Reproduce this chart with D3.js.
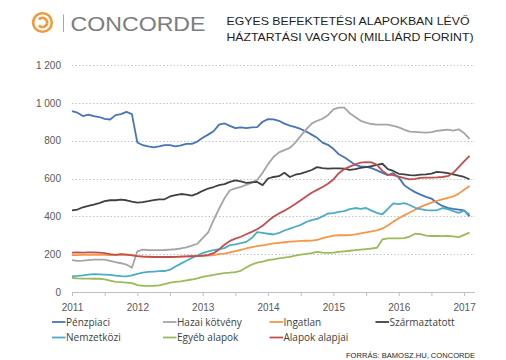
<!DOCTYPE html>
<html>
<head>
<meta charset="utf-8">
<script src="https://cdn.jsdelivr.net/npm/d3@7"></script>
<style>
  body { margin: 0; background: #fff; }
  svg { display: block; font-family: 'Open Sans', sans-serif; }
  .axis text { fill: #595959; font-size: 10px; }
  .grid line { stroke: #c4c4c4; stroke-dasharray: 1.5,2; }
  .legend text { fill: #404040; font-size: 10px; }
</style>
</head>
<body>
<svg id="chart"></svg>
<script>
// monthly values, Jan 2011 .. Feb 2017 (milliard HUF)
const startYear = 2011;
const seriesNames = ['Pénzpiaci', 'Hazai kötvény', 'Ingatlan', 'Származtatott',
  'Nemzetközi', 'Egyéb alapok', 'Alapok alapjai'];

const penzpiaci = [956, 948, 930, 938, 930, 925, 915, 912, 935, 940, 952, 940,
  790, 776, 770, 765, 770, 776, 776, 770, 775, 783, 783, 795,
  815, 832, 850, 885, 891, 878, 866, 870, 866, 870, 872, 900,
  914, 913, 905, 890, 880, 872, 862, 848, 832, 815, 790, 778,
  757, 728, 712, 693, 672, 664, 662, 655, 643, 630, 618, 628,
  605, 565, 545, 528, 515, 503, 494, 472, 455, 445, 440, 436,
  432, 400];
const hazaiKotveny = [168, 165, 166, 169, 171, 171, 171, 165, 158, 152, 145, 128,
  215, 224, 222, 221, 221, 222, 224, 226, 230, 236, 245, 255,
  285, 315, 380, 440, 495, 538, 548, 556, 566, 578, 592, 630,
  676, 714, 738, 750, 762, 790, 825, 860, 890, 905, 916, 935,
  965, 975, 975, 945, 925, 905, 895, 888, 885, 885, 885, 878,
  870, 858, 848, 846, 844, 842, 845, 852, 855, 858, 853, 860,
  840, 810];
const ingatlan = [195, 195, 196, 197, 198, 197, 196, 195, 196, 198, 197, 196,
  190, 186, 185, 185, 184, 184, 185, 186, 187, 188, 189, 190,
  190, 192, 195, 200, 203, 210, 216, 222, 230, 237, 242, 247,
  252, 257, 260, 263, 266, 268, 270, 271, 272, 275, 285, 292,
  298, 300, 300, 301, 305, 310, 315, 320, 326, 336, 352, 372,
  390, 405, 420, 435, 450, 462, 472, 482, 490, 498, 505, 520,
  540, 560];
const szarmaztatott = [432, 436, 448, 455, 462, 470, 480, 485, 485, 488, 485, 478,
  472, 475, 480, 486, 490, 490, 505, 512, 518, 515, 510, 520,
  535, 547, 555, 565, 570, 582, 590, 585, 577, 580, 582, 565,
  600, 608, 612, 630, 608, 620, 626, 635, 645, 660, 655, 652,
  653, 653, 652, 645, 650, 656, 660, 665, 672, 678, 650, 640,
  625, 622, 618, 617, 620, 622, 626, 635, 632, 628, 622, 615,
  608, 596];
const nemzetkozi = [83, 85, 88, 92, 94, 93, 92, 90, 87, 84, 83, 88,
  96, 102, 106, 108, 110, 111, 118, 135, 150, 165, 180, 193,
  206, 215, 221, 226, 232, 248, 252, 258, 265, 285, 316, 312,
  308, 304, 312, 325, 335, 345, 355, 370, 380, 386, 400, 415,
  417, 424, 428, 438, 444, 440, 444, 430, 418, 411, 440, 468,
  465, 470, 460, 445, 438, 433, 432, 432, 443, 438, 428, 418,
  430, 410];
const egyebAlapok = [74, 72, 71, 71, 70, 70, 67, 60, 54, 52, 50, 47,
  36, 33, 32, 33, 35, 42, 50, 53, 56, 62, 66, 72,
  80, 85, 90, 96, 100, 102, 105, 112, 130, 145, 155, 160,
  168, 173, 178, 182, 186, 192, 198, 202, 206, 212, 208, 207,
  208, 212, 215, 218, 221, 224, 227, 230, 234, 278, 283, 284,
  284, 285, 293, 308, 306, 298, 296, 296, 295, 296, 294, 290,
  302, 314];
const alapokAlapjai = [208, 209, 208, 210, 210, 208, 205, 200, 196, 200, 198, 194,
  190, 188, 187, 185, 185, 185, 185, 186, 187, 188, 189, 190,
  192, 196, 205, 225, 250, 270, 282, 292, 305, 318, 332, 350,
  375, 398, 415, 430, 447, 465, 485, 505, 525, 540, 555, 572,
  595, 628, 650, 663, 675, 684, 687, 685, 672, 640, 620, 618,
  610, 602, 595, 598, 603, 605, 605, 606, 608, 612, 630, 660,
  690, 720];

const seriesValues = [penzpiaci, hazaiKotveny, ingatlan, szarmaztatott,
  nemzetkozi, egyebAlapok, alapokAlapjai];
const seriesColors = ['#4674b9', '#a5a5a5', '#f79646', '#404040',
  '#4bacc6', '#9bbb59', '#c0504d'];

const yTicks = [0, 200, 400, 600, 800, 1000, 1200];
const yearLabels = [2011, 2012, 2013, 2014, 2015, 2016, 2017];

class LineChart {

    constructor(_config, _data) {
        this.config = {
            parentElement: _config.parentElement,
            containerWidth: 506,
            containerHeight: 360,
            margin: {top: 65, right: 31, bottom: 68, left: 72}
        };
        this.data = _data;
        this.initVis();
    }

    initVis() {
        const vis = this;
        vis.svg = d3.select(vis.config.parentElement)
            .attr('width', vis.config.containerWidth)
            .attr('height', vis.config.containerHeight);

        vis.config.width = vis.config.containerWidth - vis.config.margin.left - vis.config.margin.right;
        vis.config.height = vis.config.containerHeight - vis.config.margin.top - vis.config.margin.bottom;

        vis.chartArea = vis.svg.append('g')
            .attr('transform', `translate(${vis.config.margin.left},${vis.config.margin.top})`);

        // x in fractional years, axis runs two months past 2017
        vis.xScale = d3.scaleLinear()
            .domain([startYear, 2017 + 2 / 12])
            .range([0, vis.config.width]);

        vis.yScale = d3.scaleLinear()
            .domain([0, 1200])
            .range([vis.config.height, 0]);

        vis.gridG = vis.chartArea.append('g').attr('class', 'grid');
        vis.linesG = vis.chartArea.append('g');

        vis.xAxisG = vis.chartArea.append('g')
            .attr('class', 'axis x-axis')
            .attr('transform', `translate(0,${vis.config.height})`);

        vis.yAxisG = vis.chartArea.append('g')
            .attr('class', 'axis y-axis');

        vis.line = d3.line()
            .x((d, i) => vis.xScale(startYear + i / 12))
            .y(d => vis.yScale(d));

        vis.renderHeader();
        vis.renderVis();
        vis.renderLegend();
    }

    renderHeader() {
        const vis = this;
        const logo = vis.svg.append('g');
        logo.append('circle')
            .attr('cx', 42.5).attr('cy', 22.5).attr('r', 9.3)
            .attr('fill', 'none').attr('stroke', '#f39a3e').attr('stroke-width', 2.6);
        const arc = d3.arc()({innerRadius: 3.2, outerRadius: 6, startAngle: Math.PI * 0.22, endAngle: Math.PI * 1.78});
        logo.append('path')
            .attr('transform', 'translate(42.5,22.5) rotate(-90)')
            .attr('d', arc)
            .attr('fill', '#f39a3e');
        logo.append('line')
            .attr('x1', 63.5).attr('x2', 63.5).attr('y1', 14.5).attr('y2', 32)
            .attr('stroke', '#a6a6a6').attr('stroke-width', 1);
        logo.append('text')
            .attr('x', 70.5).attr('y', 31)
            .attr('textLength', 135).attr('lengthAdjust', 'spacingAndGlyphs')
            .style('font-family', 'Liberation Sans, Arial, sans-serif')
            .style('font-size', '21px').style('fill', '#7d7d7d')
            .text('CONCORDE');

        const title = vis.svg.append('g')
            .style('font-family', 'Liberation Sans, Arial, sans-serif')
            .style('font-size', '11.6px').style('fill', '#1e1e1e');
        title.append('text')
            .attr('x', 226.5).attr('y', 24.5)
            .attr('textLength', 243).attr('lengthAdjust', 'spacingAndGlyphs')
            .text('EGYES BEFEKTETÉSI ALAPOKBAN LÉVŐ');
        title.append('text')
            .attr('x', 226.5).attr('y', 40.5)
            .attr('textLength', 247).attr('lengthAdjust', 'spacingAndGlyphs')
            .text('HÁZTARTÁSI VAGYON (MILLIÁRD FORINT)');

        vis.svg.append('text')
            .attr('x', 475).attr('y', 357.5)
            .attr('text-anchor', 'end')
            .attr('textLength', 129).attr('lengthAdjust', 'spacingAndGlyphs')
            .style('font-family', 'Liberation Sans, Arial, sans-serif')
            .style('font-size', '7px').style('fill', '#1e1e1e')
            .text('FORRÁS: BAMOSZ.HU, CONCORDE');
    }

    renderVis() {
        const vis = this;

        // dotted gridlines
        vis.gridG.selectAll('line')
            .data(yTicks.filter(d => d > 0))
            .join('line')
            .attr('x1', 0)
            .attr('x2', vis.config.width)
            .attr('y1', d => Math.round(vis.yScale(d)) + 0.5)
            .attr('y2', d => Math.round(vis.yScale(d)) + 0.5);

        vis.linesG.selectAll('path')
            .data(vis.data)
            .join('path')
            .attr('fill', 'none')
            .attr('stroke', (d, i) => seriesColors[i])
            .attr('stroke-width', 1.8)
            .attr('stroke-linejoin', 'round')
            .attr('d', vis.line);

        // half-year ticks, labels only on the years
        const halfYears = d3.range(0, 13).map(i => startYear + i / 2);
        vis.xAxis = d3.axisBottom(vis.xScale)
            .tickValues(halfYears)
            .tickSizeInner(4)
            .tickSizeOuter(0)
            .tickPadding(5)
            .tickFormat(d => (yearLabels.includes(d) ? d : ''));
        vis.xAxisG.call(vis.xAxis);
        vis.xAxisG.selectAll('line, path').attr('stroke', '#bfbfbf');
        vis.xAxisG.select('.domain').attr('d', `M0,0.5H${vis.config.width}`);
        vis.xAxisG.selectAll('text').attr('dy', '1em');

        vis.yAxis = d3.axisLeft(vis.yScale)
            .tickValues(yTicks)
            .tickSize(0)
            .tickPadding(11)
            .tickFormat(d => d3.format(',')(d).replace(',', ' '));
        vis.yAxisG.call(vis.yAxis);
        vis.yAxisG.select('.domain').remove();
    }

    renderLegend() {
        const vis = this;
        const colX = [52, 163, 269.5, 375.5];
        const rowY = [322, 337.5];
        const item = vis.svg.append('g')
            .attr('class', 'legend')
            .selectAll('g')
            .data(seriesNames)
            .join('g')
            .attr('transform', (d, i) => `translate(${colX[i % 4]},${rowY[Math.floor(i / 4)]})`);

        item.append('line')
            .attr('x1', 0).attr('x2', 13.5)
            .attr('stroke', (d, i) => seriesColors[i])
            .attr('stroke-width', 1.8);

        item.append('text')
            .attr('x', 14)
            .attr('dy', '0.35em')
            .text(d => d);
    }
}

const chart = new LineChart({parentElement: '#chart'}, seriesValues);
</script>
</body>
</html>
